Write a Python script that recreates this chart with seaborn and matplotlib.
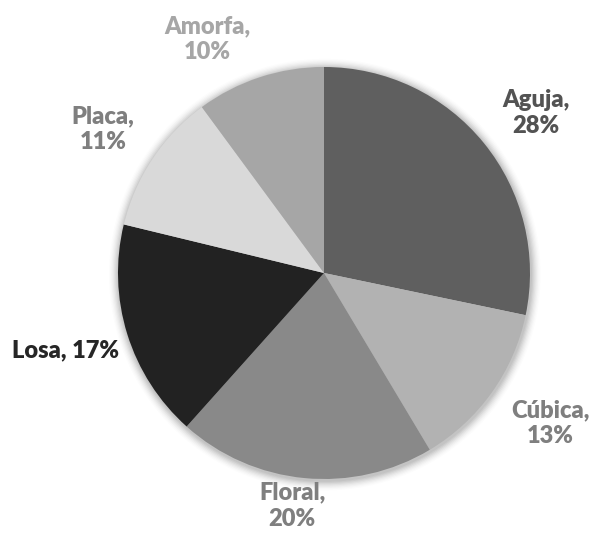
import numpy as np
import matplotlib
matplotlib.use("Agg")
import matplotlib.pyplot as plt
import seaborn as sns

sns.set_theme(style="white")
plt.rcParams["font.family"] = ["Lato", "DejaVu Sans"]

# Crystal habit shares (%)
categories = ["Aguja", "Cúbica", "Floral", "Losa", "Placa", "Amorfa"]
shares = [28, 13, 20, 17, 11, 10]

slice_colors = ["#5f5f5f", "#b2b2b2", "#898989", "#222222", "#d9d9d9", "#a6a6a6"]
label_colors = ["#535353", "#7f7f7f", "#7f7f7f", "#262626", "#7f7f7f", "#a6a6a6"]

# label placement: (angle in degrees, distance in radii, text layout)
label_layout = [
    (37.0, 1.29, "two"),
    (-33.6, 1.32, "two"),
    (-97.8, 1.14, "two"),
    (-163.4, 1.31, "one"),
    (146.9, 1.28, "two"),
    (116.5, 1.27, "two"),
]

W, H = 593, 533
R = 206.0
cx, cy = 324.0, 273.0

fig = plt.figure(figsize=(W / 100, H / 100), dpi=100)
ax = fig.add_axes([0, 0, 1, 1])

wedges, _ = ax.pie(shares, colors=slice_colors, startangle=90, counterclock=False,
                   radius=1.0, wedgeprops=dict(linewidth=0))
for w in wedges:
    w.set_zorder(2)

# soft drop shadow around the disc
for i, a in enumerate(np.linspace(0.05, 0.012, 8)):
    ax.add_patch(plt.Circle((0.004, -0.008), 1.0 + 0.006 * (i + 1),
                            color="black", alpha=a, lw=0, zorder=0))

for name, val, col, (ang, dist, mode) in zip(categories, shares, label_colors, label_layout):
    t = np.deg2rad(ang)
    x, y = dist * np.cos(t), dist * np.sin(t)
    txt = f"{name}, {val}%" if mode == "one" else f"{name},\n{val}%"
    ax.text(x, y, txt, ha="center", va="center", color=col, fontsize=17,
            fontweight="heavy", linespacing=1.22, zorder=3)

ax.set_aspect("auto")
ax.set_xlim(-cx / R, (W - cx) / R)
ax.set_ylim(-(H - cy) / R, cy / R)
ax.axis("off")

fig.savefig("out.png", dpi=100, facecolor="white")
